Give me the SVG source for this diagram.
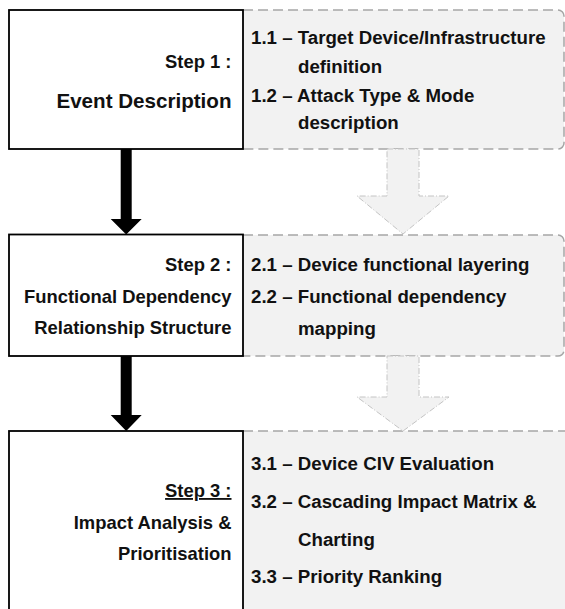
<svg xmlns="http://www.w3.org/2000/svg" width="565" height="609" viewBox="0 0 565 609">
  <style>
    .step { fill: #ffffff; stroke: #000000; stroke-width: 1.8; }
    .panel { fill: #f2f2f2; stroke: #a6a6a6; stroke-width: 1.5; stroke-dasharray: 10 5; }
    .flow { fill: #f2f2f2; stroke: #c4c4c4; stroke-width: 1; stroke-dasharray: 6 2 1 2; }
    .conn { fill: #000000; stroke: none; }
    text { font-family: "Liberation Sans", Arial, sans-serif; font-weight: bold; fill: #111111; }
    .lbl { font-size: 18.4px; text-anchor: end; }
    .big { font-size: 20.6px; text-anchor: end; }
    .item { font-size: 18.7px; }
  </style>

  <!-- detail panels behind the step boxes -->
  <g id="panel-1">
    <path class="panel" d="M243,10 H558 A6,6 0 0 1 564,16 V143 A6,6 0 0 1 558,149 H243"/>
    <text class="item" x="251" y="44">1.1 – Target Device/Infrastructure</text>
    <text class="item" x="298" y="72.5">definition</text>
    <text class="item" x="251" y="101.5">1.2 – Attack Type &amp; Mode</text>
    <text class="item" x="298" y="129">description</text>
  </g>

  <g id="panel-2">
    <path class="panel" d="M243,235 H558 A6,6 0 0 1 564,241 V350 A6,6 0 0 1 558,356 H243"/>
    <text class="item" x="251" y="270.5">2.1 – Device functional layering</text>
    <text class="item" x="251" y="303">2.2 – Functional dependency</text>
    <text class="item" x="298" y="335">mapping</text>
  </g>

  <g id="panel-3">
    <path class="panel" d="M243,431 H572 V620 H243"/>
    <text class="item" x="251" y="470">3.1 – Device CIV Evaluation</text>
    <text class="item" x="251" y="507.5">3.2 – Cascading Impact Matrix &amp;</text>
    <text class="item" x="298" y="546">Charting</text>
    <text class="item" x="251" y="582.5">3.3 – Priority Ranking</text>
  </g>

  <!-- step boxes -->
  <g id="step-1">
    <rect class="step" x="9" y="10" width="234" height="139"/>
    <text class="lbl" x="231.5" y="68">Step 1 :</text>
    <text class="big" x="231.5" y="107.5">Event Description</text>
  </g>

  <g id="step-2">
    <rect class="step" x="9" y="234.5" width="234" height="121.5"/>
    <text class="lbl" x="231.5" y="270.5">Step 2 :</text>
    <text class="lbl" x="231.5" y="302.5">Functional Dependency</text>
    <text class="lbl" x="231.5" y="334">Relationship Structure</text>
  </g>

  <g id="step-3">
    <rect class="step" x="9" y="431" width="234" height="200"/>
    <text class="lbl" x="231.5" y="497" text-decoration="underline">Step 3 :</text>
    <text class="lbl" x="231.5" y="528.5">Impact Analysis &amp;</text>
    <text class="lbl" x="231.5" y="559.5">Prioritisation</text>
  </g>

  <!-- connectors: black flow arrows between steps, pale arrows between panels -->
  <g id="connectors">
    <path class="flow" d="M387,149 H419 V196 H449 L403,234 L357,196 H387 Z"/>
    <path class="flow" d="M387,356 H419 V397 H449 L403,431 L357,397 H387 Z"/>
    <path class="conn" d="M120.7,149 H131.7 V219 H141.7 L126.2,234.5 L110.7,219 H120.7 Z"/>
    <path class="conn" d="M120.7,356 H131.7 V415 H141.7 L126.2,431 L110.7,415 H120.7 Z"/>
  </g>
</svg>
